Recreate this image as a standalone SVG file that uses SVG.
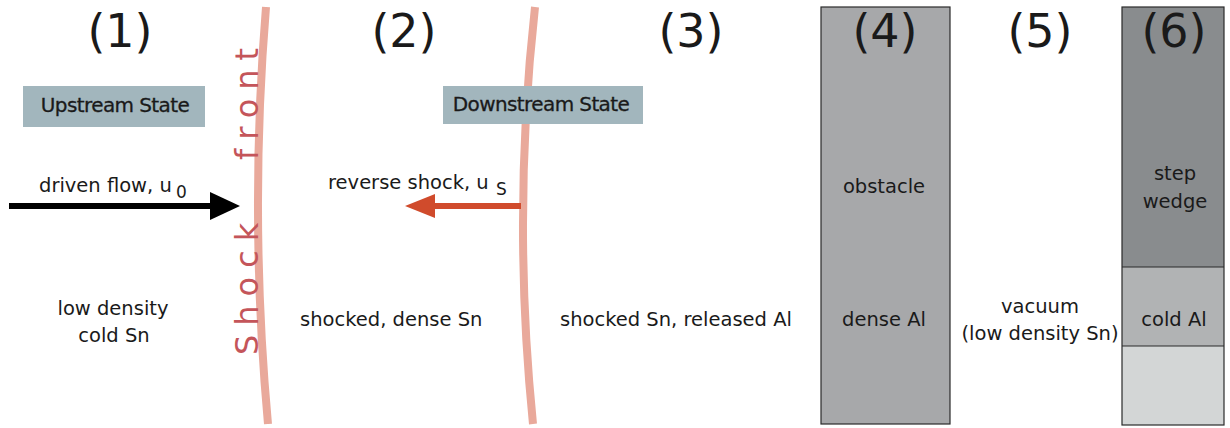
<svg xmlns="http://www.w3.org/2000/svg" width="1230" height="428" viewBox="0 0 1230 428">
  <style>
    text { font-family: "DejaVu Sans", "Liberation Sans", sans-serif; fill: #1a1a1a; }
    .num { font-size: 46px; text-anchor: middle; }
    .lbl { font-size: 19.5px; }
    .mid { text-anchor: middle; }
    .sub { font-size: 17px; }
    .state { font-size: 20px; text-anchor: middle; letter-spacing: -0.6px; stroke: #1a1a1a; stroke-width: 0.3; }
    .front { fill: none; stroke: #e9a99b; stroke-width: 8; }
    .shock-label { font-size: 32px; fill: #c4555a; letter-spacing: 9px; }
    .slab { stroke: #2a2a2a; stroke-width: 1.2; }
  </style>

  <!-- shock fronts -->
  <g id="shock-fronts">
    <path class="front" d="M266,7 Q249,215 268,424"/>
    <path class="front" d="M535,7 Q512,215 533,424"/>
    <text class="shock-label" transform="translate(258,0) rotate(-90)"><tspan x="-355">Shock</tspan><tspan x="-160">front</tspan></text>
  </g>

  <!-- region numbers -->
  <g id="region-numbers">
    <text class="num" x="120" y="47">(1)</text>
    <text class="num" x="404" y="47">(2)</text>
    <text class="num" x="691" y="47">(3)</text>
  </g>

  <!-- state tags -->
  <g id="upstream-state">
    <rect x="23" y="86" width="182" height="41" fill="#a2b6bd"/>
    <text class="state" x="115" y="112">Upstream State</text>
  </g>
  <g id="downstream-state">
    <rect x="443" y="86" width="200" height="38" fill="#a2b6bd"/>
    <text class="state" x="541" y="111">Downstream State</text>
  </g>

  <!-- flow arrows -->
  <g id="connectors">
    <line x1="9" y1="206" x2="212" y2="206" stroke="#000" stroke-width="6"/>
    <polygon points="210,192 240,206 210,220" fill="#000"/>
    <line x1="433" y1="206" x2="521" y2="206" stroke="#d04b2c" stroke-width="6"/>
    <polygon points="405,206 435,194 435,218" fill="#d04b2c"/>
  </g>

  <g id="flow-label">
    <text class="lbl" x="39" y="192">driven flow, u</text>
    <text class="sub" x="176" y="198">0</text>
  </g>
  <g id="reverse-shock-label">
    <text class="lbl" x="328" y="189">reverse shock, u</text>
    <text class="sub" x="496" y="195">S</text>
  </g>

  <!-- region descriptions -->
  <g id="region-1">
    <text class="lbl mid" x="113" y="315">low density</text>
    <text class="lbl mid" x="114" y="342">cold Sn</text>
  </g>
  <g id="region-2">
    <text class="lbl" x="300" y="326">shocked, dense Sn</text>
  </g>
  <g id="region-3">
    <text class="lbl" x="560" y="326">shocked Sn, released Al</text>
  </g>

  <!-- obstacle slab -->
  <g id="region-4">
    <rect class="slab" x="821" y="7" width="129" height="417" fill="#a7a8aa"/>
    <text class="num" x="885" y="47">(4)</text>
    <text class="lbl mid" x="884" y="193">obstacle</text>
    <text class="lbl mid" x="884" y="326">dense Al</text>
  </g>

  <!-- vacuum gap -->
  <g id="region-5">
    <text class="num" x="1040" y="47">(5)</text>
    <text class="lbl mid" x="1040" y="313">vacuum</text>
    <text class="lbl mid" x="1040" y="340">(low density Sn)</text>
  </g>

  <!-- step wedge target -->
  <g id="region-6">
    <rect x="1122" y="7" width="102" height="260" fill="#898c8e"/>
    <rect x="1122" y="267" width="102" height="79" fill="#b1b3b4"/>
    <rect x="1122" y="346" width="102" height="79" fill="#d3d6d6"/>
    <rect class="slab" x="1122" y="7" width="102" height="418" fill="none"/>
    <line class="slab" x1="1122" y1="267" x2="1224" y2="267"/>
    <line class="slab" x1="1122" y1="346" x2="1224" y2="346"/>
    <text class="num" x="1174" y="47">(6)</text>
    <text class="lbl mid" x="1175" y="180">step</text>
    <text class="lbl mid" x="1175" y="208">wedge</text>
    <text class="lbl mid" x="1174" y="326">cold Al</text>
  </g>
</svg>
